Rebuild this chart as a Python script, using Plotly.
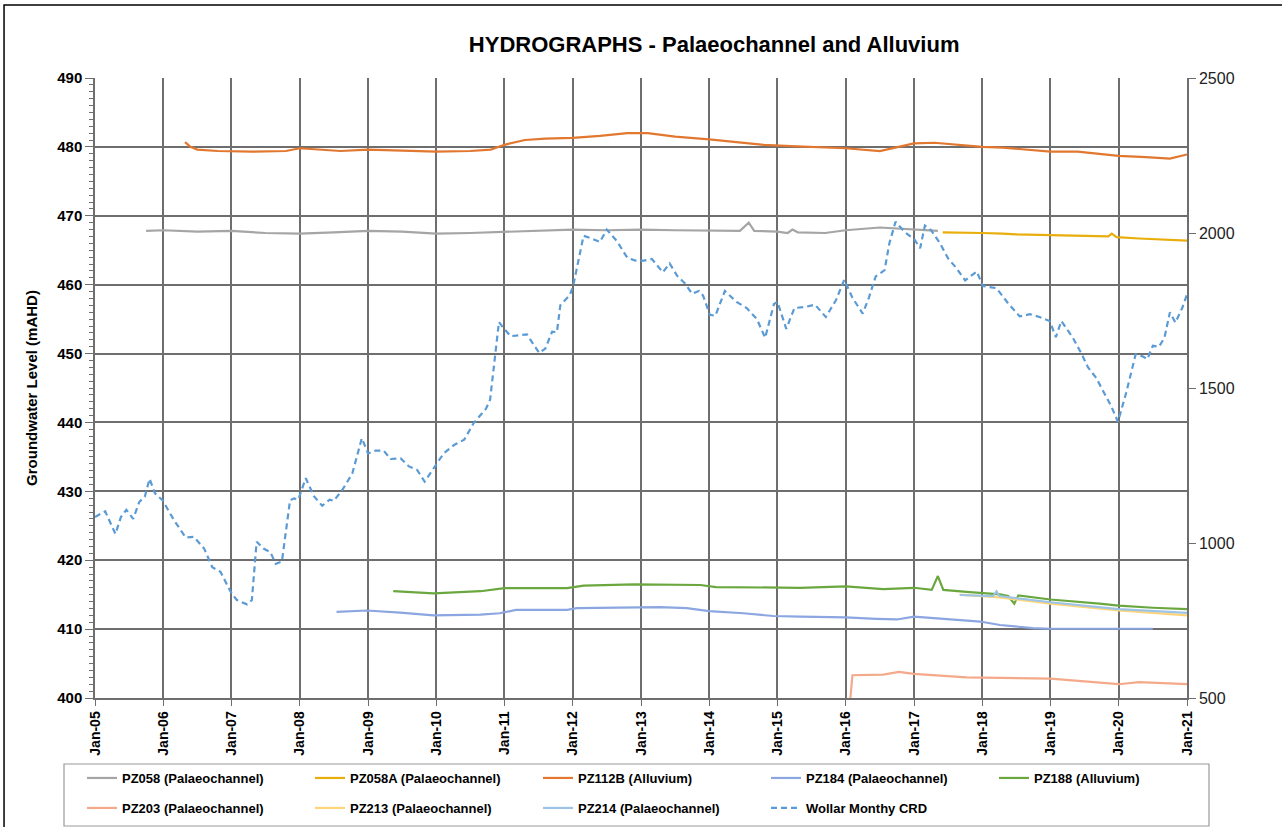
import pandas as pd
import plotly.graph_objects as go

# ---- data (decimal years, groundwater level in mAHD / CRD in mm) ----
pz058_t = [2005.75, 2006.0, 2006.5, 2007.0, 2007.5, 2008.0, 2008.5, 2009.0, 2009.5, 2010.0,
           2010.5, 2011.0, 2011.5, 2012.0, 2012.5, 2013.0, 2013.5, 2014.0, 2014.45, 2014.58,
           2014.66, 2015.0, 2015.15, 2015.22, 2015.3, 2015.7, 2016.0, 2016.5, 2017.0, 2017.35]
pz058_v = [467.8, 467.9, 467.7, 467.8, 467.5, 467.4, 467.6, 467.8, 467.7, 467.4,
           467.5, 467.7, 467.9, 468.0, 467.9, 468.0, 467.9, 467.9, 467.8, 469.0,
           467.8, 467.7, 467.5, 468.0, 467.6, 467.5, 467.9, 468.3, 468.0, 467.8]

pz058a_t = [2017.42, 2017.8, 2018.0, 2018.3, 2018.5, 2019.0, 2019.5, 2019.85, 2019.9, 2019.97,
            2020.3, 2020.6, 2021.0]
pz058a_v = [467.6, 467.6, 467.5, 467.4, 467.3, 467.2, 467.1, 467.0, 467.4, 466.9,
            466.7, 466.6, 466.4]

pz112b_t = [2006.32, 2006.4, 2006.5, 2006.8, 2007.3, 2007.8, 2008.0, 2008.3, 2008.6, 2009.0,
            2009.5, 2010.0, 2010.5, 2010.8, 2011.0, 2011.3, 2011.6, 2012.0, 2012.4, 2012.8,
            2013.1, 2013.5, 2014.0, 2014.4, 2014.8, 2015.2, 2015.6, 2016.0, 2016.5, 2016.75,
            2017.0, 2017.3, 2017.6, 2018.0, 2018.3, 2018.6, 2019.0, 2019.4, 2019.7, 2020.0,
            2020.4, 2020.75, 2021.0]
pz112b_v = [480.7, 480.0, 479.6, 479.4, 479.3, 479.4, 479.8, 479.6, 479.4, 479.6,
            479.5, 479.3, 479.4, 479.6, 480.3, 481.0, 481.2, 481.3, 481.6, 482.0,
            482.0, 481.5, 481.1, 480.7, 480.3, 480.1, 479.9, 479.8, 479.4, 480.0,
            480.5, 480.6, 480.3, 480.0, 479.9, 479.6, 479.3, 479.3, 479.0, 478.7,
            478.5, 478.3, 478.9]

pz184_t = [2008.54, 2008.98, 2009.47, 2009.96, 2010.65, 2010.93, 2011.17, 2011.92, 2012.06, 2012.9,
           2013.28, 2013.67, 2014.0, 2014.5, 2014.94, 2015.33, 2016.0, 2016.45, 2016.75, 2017.0,
           2017.62, 2017.97, 2018.26, 2018.74, 2019.0, 2020.5]
pz184_v = [412.5, 412.7, 412.4, 412.0, 412.1, 412.3, 412.8, 412.8, 413.05, 413.1,
           413.2, 413.05, 412.6, 412.3, 411.9, 411.8, 411.7, 411.5, 411.4, 411.8,
           411.4, 411.1, 410.6, 410.15, 410.05, 410.05]

pz188_t = [2009.37, 2009.96, 2010.65, 2011.0, 2011.92, 2012.16, 2012.9, 2013.87, 2014.1, 2015.33,
           2016.0, 2016.55, 2017.0, 2017.26, 2017.35, 2017.43, 2017.77, 2018.26, 2018.38, 2018.47,
           2018.53, 2019.0, 2019.72, 2020.0, 2020.5, 2021.0]
pz188_v = [415.5, 415.2, 415.5, 415.95, 415.95, 416.3, 416.5, 416.4, 416.1, 416.0,
           416.2, 415.8, 416.0, 415.7, 417.7, 415.7, 415.4, 415.05, 414.8, 413.7,
           414.9, 414.3, 413.7, 413.4, 413.1, 412.9]

pz203_t = [2016.07, 2016.1, 2016.55, 2016.78, 2017.0, 2017.77, 2019.0, 2019.72, 2020.0, 2020.3, 2021.0]
pz203_v = [400.0, 403.3, 403.4, 403.8, 403.5, 403.0, 402.8, 402.3, 402.0, 402.3, 402.0]

pz213_t = [2017.67, 2018.25, 2019.0, 2020.0, 2021.0]
pz213_v = [415.0, 414.6, 413.7, 412.7, 412.0]

pz214_t = [2017.67, 2018.16, 2018.21, 2018.25, 2019.0, 2020.0, 2021.0]
pz214_v = [414.95, 414.8, 415.5, 414.8, 413.9, 412.9, 412.35]

crd_t = [2005.00, 2005.15, 2005.30, 2005.38, 2005.46, 2005.56, 2005.65, 2005.73, 2005.80, 2005.88,
         2005.99, 2006.16, 2006.33, 2006.45, 2006.60, 2006.72, 2006.84, 2006.99, 2007.08, 2007.23,
         2007.30, 2007.37, 2007.47, 2007.57, 2007.65, 2007.74, 2007.86, 2007.92, 2007.98, 2008.09,
         2008.21, 2008.33, 2008.44, 2008.50, 2008.63, 2008.77, 2008.91, 2009.00, 2009.11, 2009.23,
         2009.33, 2009.48, 2009.60, 2009.72, 2009.83, 2009.97, 2010.11, 2010.26, 2010.41, 2010.55,
         2010.73, 2010.79, 2010.85, 2010.92, 2010.97, 2011.09, 2011.33, 2011.51, 2011.60, 2011.70,
         2011.77, 2011.82, 2011.96, 2012.01, 2012.09, 2012.16, 2012.28, 2012.40, 2012.50, 2012.65,
         2012.80, 2012.92, 2013.04, 2013.16, 2013.32, 2013.42, 2013.53, 2013.65, 2013.75, 2013.85,
         2013.91, 2014.01, 2014.09, 2014.23, 2014.40, 2014.55, 2014.70, 2014.82, 2014.95, 2015.00,
         2015.13, 2015.25, 2015.42, 2015.55, 2015.71, 2015.86, 2015.98, 2016.10, 2016.25, 2016.34,
         2016.44, 2016.57, 2016.64, 2016.73, 2016.86, 2017.01, 2017.09, 2017.16, 2017.25, 2017.38,
         2017.50, 2017.62, 2017.75, 2017.92, 2018.01, 2018.21, 2018.38, 2018.55, 2018.70, 2018.84,
         2018.99, 2019.08, 2019.16, 2019.33, 2019.45, 2019.55, 2019.67, 2019.79, 2019.89, 2019.99,
         2020.11, 2020.25, 2020.35, 2020.42, 2020.50, 2020.59, 2020.67, 2020.75, 2020.83, 2020.93,
         2021.00]
crd_v = [1084, 1102, 1029, 1084, 1107, 1078, 1133, 1149, 1207, 1160,
         1138, 1073, 1018, 1020, 982, 922, 907, 842, 816, 802,
         816, 1004, 982, 971, 933, 940, 1138, 1144, 1140, 1209,
         1151, 1120, 1140, 1136, 1173, 1224, 1338, 1289, 1298, 1298,
         1271, 1273, 1247, 1236, 1198, 1242, 1289, 1316, 1333, 1387,
         1433, 1462, 1569, 1713, 1698, 1667, 1673, 1613, 1627, 1682,
         1680, 1767, 1800, 1831, 1916, 1991, 1982, 1971, 2011, 1973,
         1920, 1911, 1911, 1916, 1873, 1902, 1862, 1836, 1804, 1813,
         1798, 1736, 1733, 1813, 1778, 1758, 1722, 1662, 1771, 1778,
         1691, 1758, 1762, 1769, 1729, 1784, 1849, 1791, 1740, 1791,
         1860, 1880, 1967, 2036, 2004, 1978, 1951, 2024, 2009, 1967,
         1918, 1887, 1847, 1876, 1829, 1822, 1773, 1731, 1738, 1729,
         1716, 1664, 1716, 1662, 1613, 1567, 1533, 1484, 1442, 1391,
         1484, 1609, 1602, 1593, 1636, 1633, 1662, 1744, 1711, 1758,
         1802]


def to_dates(years):
    out = []
    for y in years:
        yr = int(y)
        start = pd.Timestamp(yr, 1, 1)
        end = pd.Timestamp(yr + 1, 1, 1)
        out.append(start + (end - start) * (y - yr))
    return out


FONT = "Liberation Sans, Arial, sans-serif"
LEG_FONT = "Liberation Sans Narrow, Arial Narrow, Liberation Sans, sans-serif"
GRID = "#6e6e6e"

# (name, times, values, colour, legend block)
series = [
    ("PZ058 (Palaeochannel)", pz058_t, pz058_v, "#a5a5a5", "legend"),
    ("PZ058A (Palaeochannel)", pz058a_t, pz058a_v, "#e8ae0c", "legend"),
    ("PZ112B (Alluvium)", pz112b_t, pz112b_v, "#e2772f", "legend"),
    ("PZ184 (Palaeochannel)", pz184_t, pz184_v, "#8ba6e0", "legend3"),
    ("PZ188 (Alluvium)", pz188_t, pz188_v, "#6aa83f", "legend3"),
    ("PZ203 (Palaeochannel)", pz203_t, pz203_v, "#f4a98a", "legend2"),
    ("PZ213 (Palaeochannel)", pz213_t, pz213_v, "#ffd57a", "legend2"),
    ("PZ214 (Palaeochannel)", pz214_t, pz214_v, "#9dc3e6", "legend2"),
]

fig = go.Figure()
for name, t, v, col, leg in series:
    fig.add_trace(go.Scatter(x=to_dates(t), y=v, name=name, mode="lines",
                             line=dict(color=col, width=2.2), yaxis="y", legend=leg))

fig.add_trace(go.Scatter(x=to_dates(crd_t), y=crd_v, name="Wollar Monthy CRD", mode="lines",
                         line=dict(color="#5b9bd5", width=2.2, dash="6px,4px"),
                         yaxis="y2", legend="legend2"))

ENTRY = 183          # entry text width; each entry occupies ~228 px
ROW_X = 82           # left edge of legend rows (px)
leg_common = dict(orientation="h", xref="container", yref="container",
                  xanchor="left", yanchor="middle",
                  borderwidth=0, bgcolor="rgba(0,0,0,0)",
                  entrywidth=ENTRY, entrywidthmode="pixels",
                  font=dict(size=13, family=LEG_FONT, color="black", weight="bold"),
                  traceorder="normal")

fig.update_layout(
    width=1282, height=827,
    margin=dict(l=95, r=95, t=78, b=129, autoexpand=False),
    paper_bgcolor="white", plot_bgcolor="white",
    font=dict(family=FONT, color="black"),
    title=dict(text="<b>HYDROGRAPHS - Palaeochannel and Alluvium</b>",
               x=0.567, xref="paper", xanchor="center", y=0.947, yanchor="middle",
               font=dict(size=22, family=FONT, color="black")),
    showlegend=True,
    legend=dict(leg_common, x=ROW_X / 1282, y=1 - 778 / 827),
    legend3=dict(leg_common, x=(ROW_X + 3 * 228) / 1282, y=1 - 778 / 827),
    legend2=dict(leg_common, x=ROW_X / 1282, y=1 - 808 / 827),
    xaxis=dict(type="date", range=["2005-01-01", "2021-01-01"],
               dtick="M12", tick0="2005-01-01", tickformat="%b-%y", tickangle=-90,
               showgrid=True, gridcolor=GRID, gridwidth=1.5,
               showline=True, linecolor=GRID, linewidth=1.5,
               ticks="outside", ticklen=6, tickcolor=GRID,
               tickfont=dict(size=14, family=FONT, color="black", weight="bold"),
               zeroline=False, automargin=False),
    yaxis=dict(range=[400, 490], dtick=10, tick0=400,
               showgrid=True, gridcolor=GRID, gridwidth=1.5,
               showline=True, linecolor=GRID, linewidth=1.5,
               ticks="outside", ticklen=8, tickcolor=GRID,
               minor=dict(ticks="outside", dtick=1, ticklen=4, tickcolor=GRID, showgrid=False),
               tickfont=dict(size=15, family=FONT, color="black", weight="bold"),
               title=dict(text="<b>Groundwater Level (mAHD)</b>", standoff=16,
                          font=dict(size=15, family=FONT, color="black")),
               zeroline=False, automargin=False),
    yaxis2=dict(range=[500, 2500], dtick=500, tick0=500, overlaying="y", side="right",
                showgrid=False, showline=True, linecolor=GRID, linewidth=1.5,
                ticks="outside", ticklen=7, tickcolor=GRID,
                tickfont=dict(size=16, family=FONT, color="#222222"),
                zeroline=False, automargin=False),
)

# outer chart frame
fig.add_shape(type="rect", xref="paper", yref="paper",
              x0=-0.0833, x1=1.2, y0=-0.5, y1=1.1177,
              line=dict(color="black", width=1.5), fillcolor="rgba(0,0,0,0)", layer="below")

# legend frame
fig.add_shape(type="rect", xref="paper", yref="paper",
              x0=(64 - 95) / 1092, x1=(1209 - 95) / 1092,
              y0=(698 - 826) / 620, y1=(698 - 764) / 620,
              line=dict(color="#9a9a9a", width=1.2), fillcolor="rgba(0,0,0,0)", layer="below")

fig.write_html("out.html")
